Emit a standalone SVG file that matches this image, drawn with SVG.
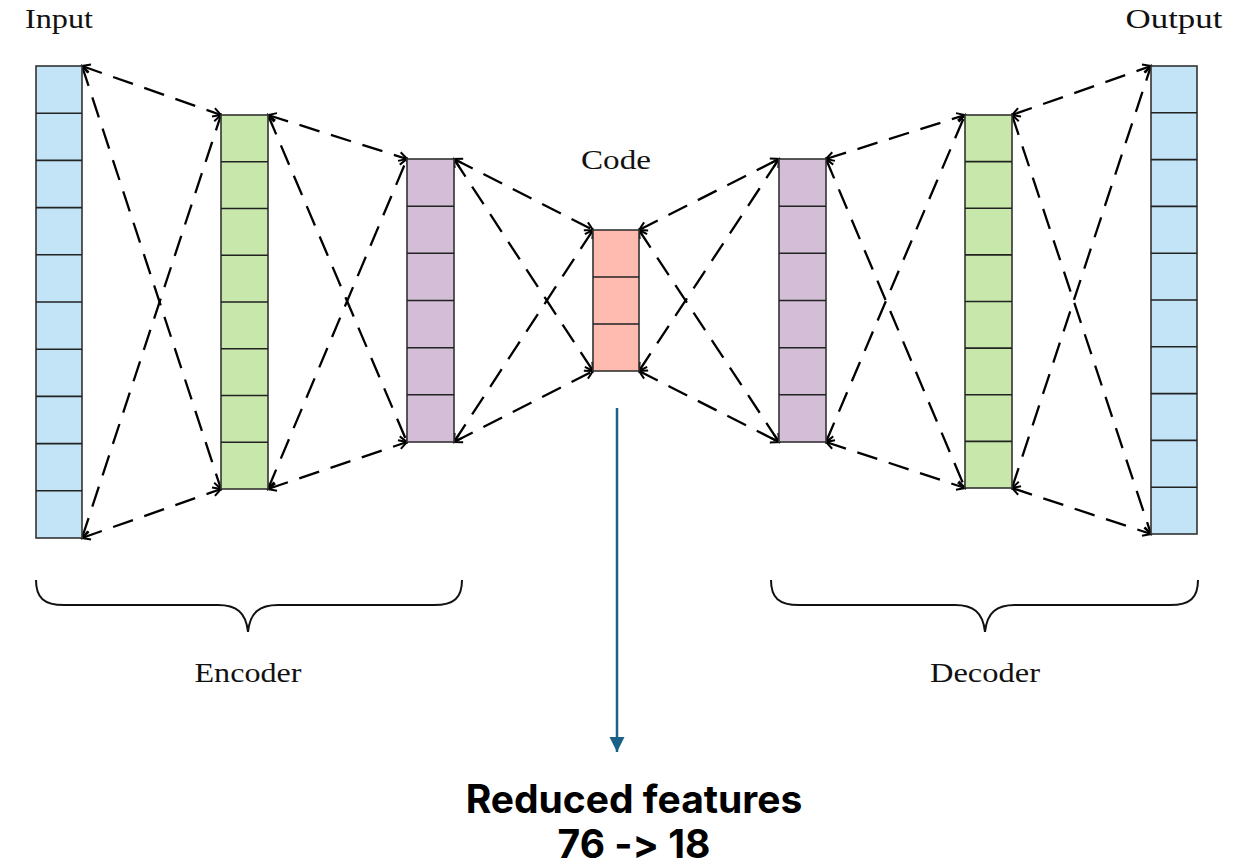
<svg xmlns="http://www.w3.org/2000/svg" width="1253" height="868" viewBox="0 0 1253 868">
<defs>
<style>
.cell{stroke:#333;stroke-width:1.6}
.div{stroke:#222;stroke-width:1.6}
.blue{fill:#C2E4F6}
.green{fill:#C7E8AA}
.purple{fill:#D3BDD7}
.red{fill:#FFBBAF}
.con line{stroke:#000;stroke-width:2.3;stroke-dasharray:21 12;fill:none;marker-start:url(#ah);marker-end:url(#ah)}
.serif{font-family:"Liberation Serif","DejaVu Serif",serif;font-size:27px;fill:#111}
.bold{font-family:Inter,"Liberation Sans",sans-serif;font-weight:700;font-size:39px;fill:#000;font-variant-ligatures:none;font-feature-settings:"calt" 0,"liga" 0}
.brace{fill:none;stroke:#111;stroke-width:2}
</style>
<marker id="ah" markerUnits="userSpaceOnUse" markerWidth="12" markerHeight="12" viewBox="0 0 12 12" refX="10" refY="6" orient="auto-start-reverse">
<path d="M2,1.5 L10,6 L2,10.5" fill="none" stroke="#000" stroke-width="2"/>
</marker>
<marker id="tri" markerUnits="userSpaceOnUse" markerWidth="16" markerHeight="16" viewBox="0 0 16 16" refX="8" refY="15" orient="0">
<path d="M0.5,0 L15.5,0 L8,15 Z" fill="#1A6188"/>
</marker>
</defs>
<rect width="1253" height="868" fill="#fff"/>

<g id="connectors" class="con">
<line x1="82" y1="66" x2="221" y2="115"/>
<line x1="82" y1="538" x2="221" y2="489"/>
<line x1="82" y1="66" x2="221" y2="489"/>
<line x1="82" y1="538" x2="221" y2="115"/>
<line x1="268" y1="115" x2="407" y2="159"/>
<line x1="268" y1="489" x2="407" y2="442"/>
<line x1="268" y1="115" x2="407" y2="442"/>
<line x1="268" y1="489" x2="407" y2="159"/>
<line x1="454" y1="159" x2="593" y2="230"/>
<line x1="454" y1="442" x2="593" y2="371"/>
<line x1="454" y1="159" x2="593" y2="371"/>
<line x1="454" y1="442" x2="593" y2="230"/>
<line x1="639" y1="230" x2="779" y2="159"/>
<line x1="639" y1="371" x2="779" y2="442"/>
<line x1="639" y1="230" x2="779" y2="442"/>
<line x1="639" y1="371" x2="779" y2="159"/>
<line x1="826" y1="159" x2="965" y2="115"/>
<line x1="826" y1="442" x2="965" y2="488"/>
<line x1="826" y1="159" x2="965" y2="488"/>
<line x1="826" y1="442" x2="965" y2="115"/>
<line x1="1012" y1="115" x2="1151" y2="66"/>
<line x1="1012" y1="488" x2="1151" y2="534"/>
<line x1="1012" y1="115" x2="1151" y2="534"/>
<line x1="1012" y1="488" x2="1151" y2="66"/>
</g>

<g id="input">
<rect class="cell blue" x="36" y="66" width="46" height="472"/>
<path class="div" d="M36,113.2H82M36,160.4H82M36,207.6H82M36,254.8H82M36,302H82M36,349.2H82M36,396.4H82M36,443.6H82M36,490.8H82"/>
<text class="serif" x="59" y="28" text-anchor="middle" textLength="68" lengthAdjust="spacingAndGlyphs">Input</text>
</g>

<g id="enc1">
<rect class="cell green" x="221" y="115" width="47" height="374"/>
<path class="div" d="M221,161.75H268M221,208.5H268M221,255.25H268M221,302H268M221,348.75H268M221,395.5H268M221,442.25H268"/>
</g>

<g id="enc2">
<rect class="cell purple" x="407" y="159" width="47" height="283"/>
<path class="div" d="M407,206.2H454M407,253.3H454M407,300.5H454M407,347.7H454M407,394.8H454"/>
</g>

<g id="code">
<rect class="cell red" x="593" y="230" width="46" height="141"/>
<path class="div" d="M593,277H639M593,324H639"/>
<text class="serif" x="616" y="169" text-anchor="middle" textLength="70" lengthAdjust="spacingAndGlyphs">Code</text>
</g>

<g id="dec1">
<rect class="cell purple" x="779" y="159" width="47" height="283"/>
<path class="div" d="M779,206.2H826M779,253.3H826M779,300.5H826M779,347.7H826M779,394.8H826"/>
</g>

<g id="dec2">
<rect class="cell green" x="965" y="115" width="47" height="373"/>
<path class="div" d="M965,161.6H1012M965,208.3H1012M965,254.9H1012M965,301.5H1012M965,348.1H1012M965,394.8H1012M965,441.4H1012"/>
</g>

<g id="output">
<rect class="cell blue" x="1151" y="66" width="46" height="468"/>
<path class="div" d="M1151,112.8H1197M1151,159.6H1197M1151,206.4H1197M1151,253.2H1197M1151,300H1197M1151,346.8H1197M1151,393.6H1197M1151,440.4H1197M1151,487.2H1197"/>
<text class="serif" x="1174" y="28" text-anchor="middle" textLength="97" lengthAdjust="spacingAndGlyphs">Output</text>
</g>

<g id="encoder">
<path class="brace" d="M36,580 C36,598 44,605 64,605 L218,605 C236,605 246,612 248,632 C250,612 260,605 278,605 L434,605 C454,605 462,598 462,580"/>
<text class="serif" x="248" y="682" text-anchor="middle" textLength="107" lengthAdjust="spacingAndGlyphs">Encoder</text>
</g>

<g id="decoder">
<path class="brace" d="M771,580 C771,598 779,605 799,605 L955,605 C973,605 983,612 985,632 C987,612 997,605 1015,605 L1170,605 C1190,605 1198,598 1198,580"/>
<text class="serif" x="985" y="682" text-anchor="middle" textLength="110" lengthAdjust="spacingAndGlyphs">Decoder</text>
</g>

<g id="reduced">
<line x1="617" y1="408" x2="617" y2="752" stroke="#1A6188" stroke-width="2.5" marker-end="url(#tri)"/>
<text class="bold" x="634" y="813" text-anchor="middle">Reduced features</text>
<text class="bold" x="634" y="858" text-anchor="middle">76 -&gt; 18</text>
</g>
</svg>
